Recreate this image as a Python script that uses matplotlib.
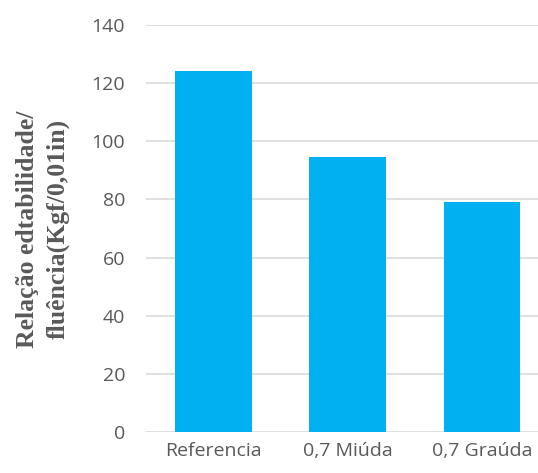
import matplotlib
matplotlib.use("Agg")
import matplotlib.pyplot as plt

categories = ["Referencia", "0,7 Miúda", "0,7 Graúda"]
values = [124, 94.5, 79]
y_ticks = [0, 20, 40, 60, 80, 100, 120, 140]

fig = plt.figure(figsize=(5.38, 4.73), dpi=100)
ax = fig.add_axes([0.2714, 0.0867, 0.7286, 0.8605])

ax.bar(range(len(categories)), values, width=0.57, color="#00B0F0", zorder=2)

ax.set_ylim(0, 140)
ax.set_xlim(-0.5, 2.416)
ax.set_yticks(y_ticks)
ax.set_xticks(range(len(categories)))
ax.set_xticklabels(categories)
ax.grid(axis="y", color="#D9D9D9", linewidth=1.2, zorder=0)
ax.set_axisbelow(True)
for s in ax.spines.values():
    s.set_visible(False)
ax.tick_params(length=0, labelsize=14, labelcolor="#595959")
ax.tick_params(axis="y", pad=15)
ax.tick_params(axis="x", pad=7)
for lab in ax.get_xticklabels() + ax.get_yticklabels():
    lab.set_family("Open Sans")

fig.text(0.08, 0.516, "Relação edtabilidade/\nfluência(Kgf/0,01in)", rotation=90,
         ha="center", va="center", family="Liberation Serif", fontweight="bold",
         fontsize=18.5, color="#595959", linespacing=1.4)

fig.savefig("out.png", dpi=100)
